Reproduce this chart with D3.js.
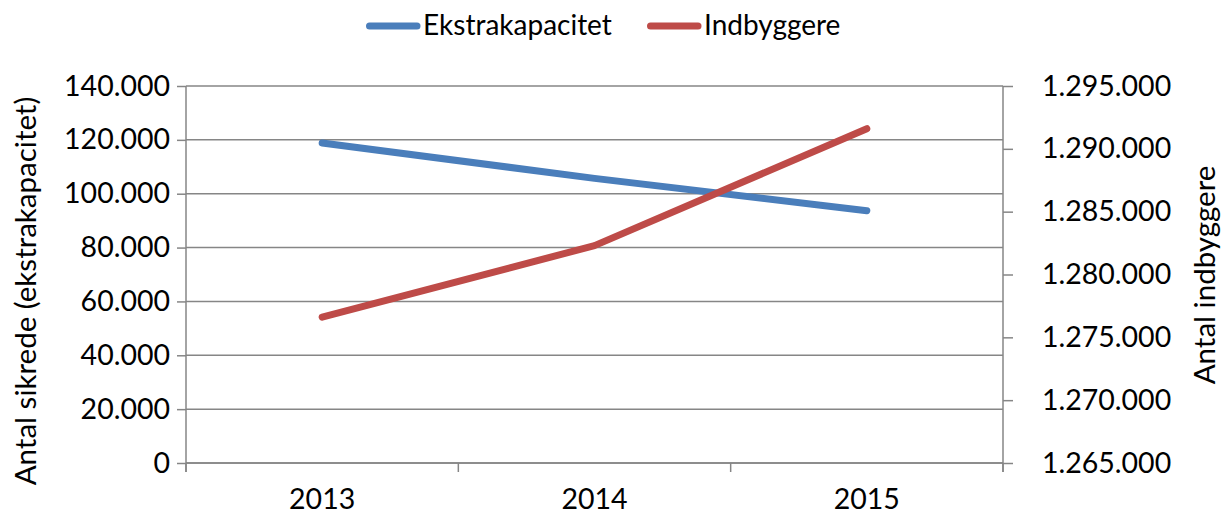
<!DOCTYPE html>
<html>
<head>
<meta charset="utf-8">
<script src="https://d3js.org/d3.v7.min.js"></script>
<style>
body { margin: 0; background: #fff; }
svg { display: block; font-family: Lato, 'Open Sans', sans-serif; }
</style>
</head>
<body>
<div id="chart"></div>
<script>
  // data
  var years = ["2013", "2014", "2015"];
  var ekstrakapacitet = [118850, 105700, 93700];
  var indbyggere = [1276600, 1282300, 1291600];
  var leftTicks = [0, 20000, 40000, 60000, 80000, 100000, 120000, 140000];
  var rightTicks = [1265000, 1270000, 1275000, 1280000, 1285000, 1290000, 1295000];

  var width = 1223, height = 514;
  var plotLeft = 186, plotRight = 1003, plotTop = 86, plotBottom = 463;
  var tickFont = 28.5, titleFont = 29.5, legendFont = 28;
  var gridColor = "#868686";
  var blue = "#4a7ebb", red = "#be4b48";

  var fmt = function(v) { return d3.format(",")(v).replace(/,/g, "."); };

  var svg = d3.select("#chart").append("svg")
    .attr("width", width)
    .attr("height", height);

  var x = d3.scaleBand().domain(years).range([plotLeft, plotRight]);
  var yL = d3.scaleLinear().domain([0, 140000]).range([plotBottom, plotTop]);
  var yR = d3.scaleLinear().domain([1265000, 1295000]).range([plotBottom, plotTop]);

  // gridlines
  svg.append("g").selectAll("line")
    .data(leftTicks).enter().append("line")
    .attr("x1", plotLeft).attr("x2", plotRight)
    .attr("y1", function(d) { return yL(d); })
    .attr("y2", function(d) { return yL(d); })
    .attr("stroke", gridColor).attr("stroke-width", 1.5);

  // left axis
  var gL = svg.append("g").attr("transform", "translate(" + plotLeft + ",0)")
    .call(d3.axisLeft(yL).tickValues(leftTicks).tickFormat(fmt).tickSize(9).tickPadding(7));
  // right axis
  var gR = svg.append("g").attr("transform", "translate(" + plotRight + ",0)")
    .call(d3.axisRight(yR).tickValues(rightTicks).tickFormat(fmt).tickSize(10).tickPadding(29));
  // bottom axis, ticks between categories
  var boundaries = years.map(function(d) { return x(d); }).concat([plotRight]);
  var gB = svg.append("g").attr("transform", "translate(0," + plotBottom + ")");
  gB.append("line").attr("x1", plotLeft).attr("x2", plotRight)
    .attr("stroke", gridColor).attr("stroke-width", 1.5);
  gB.selectAll(".bt").data(boundaries).enter().append("line")
    .attr("x1", function(d) { return d; }).attr("x2", function(d) { return d; })
    .attr("y1", 0).attr("y2", 9)
    .attr("stroke", gridColor).attr("stroke-width", 1.5);
  gB.selectAll("text").data(years).enter().append("text")
    .attr("x", function(d) { return x(d) + x.bandwidth() / 2; })
    .attr("y", 46)
    .attr("text-anchor", "middle")
    .attr("font-size", tickFont)
    .attr("fill", "#000")
    .text(function(d) { return d; });

  [gL, gR].forEach(function(g) {
    g.select(".domain").attr("stroke", gridColor).attr("stroke-width", 1.5)
      .attr("d", "M0," + plotTop + "V" + (plotBottom + 9));
    g.selectAll(".tick line").attr("stroke", gridColor).attr("stroke-width", 1.5);
    g.selectAll(".tick text").attr("font-size", tickFont).attr("fill", "#000")
      .attr("font-family", "Lato, 'Open Sans', sans-serif");
  });
  gR.selectAll(".tick text").attr("text-anchor", "start");

  // axis titles
  svg.append("text")
    .attr("transform", "translate(36,291) rotate(-90)")
    .attr("text-anchor", "middle")
    .attr("font-size", titleFont)
    .text("Antal sikrede (ekstrakapacitet)");
  svg.append("text")
    .attr("transform", "translate(1215,275) rotate(-90)")
    .attr("text-anchor", "middle")
    .attr("font-size", titleFont)
    .text("Antal indbyggere");

  // lines
  var cx = function(d, i) { return x(years[i]) + x.bandwidth() / 2; };
  var lineL = d3.line().x(cx).y(function(d) { return yL(d); });
  var lineR = d3.line().x(cx).y(function(d) { return yR(d); });

  svg.append("path").datum(ekstrakapacitet)
    .attr("d", lineL).attr("fill", "none")
    .attr("stroke", blue).attr("stroke-width", 7)
    .attr("stroke-linecap", "round").attr("stroke-linejoin", "round");
  svg.append("path").datum(indbyggere)
    .attr("d", lineR).attr("fill", "none")
    .attr("stroke", red).attr("stroke-width", 7)
    .attr("stroke-linecap", "round").attr("stroke-linejoin", "round");

  // legend
  var legend = [
    { name: "Ekstrakapacitet", color: blue, x: 366 },
    { name: "Indbyggere", color: red, x: 647 }
  ];
  var lg = svg.append("g").selectAll("g").data(legend).enter().append("g")
    .attr("transform", function(d) { return "translate(" + d.x + ",26)"; });
  lg.append("line").attr("x1", 3.5).attr("x2", 51)
    .attr("stroke", function(d) { return d.color; })
    .attr("stroke-width", 7).attr("stroke-linecap", "round");
  lg.append("text").attr("x", 57).attr("y", 9)
    .attr("font-size", legendFont)
    .text(function(d) { return d.name; });
</script>
</body>
</html>
